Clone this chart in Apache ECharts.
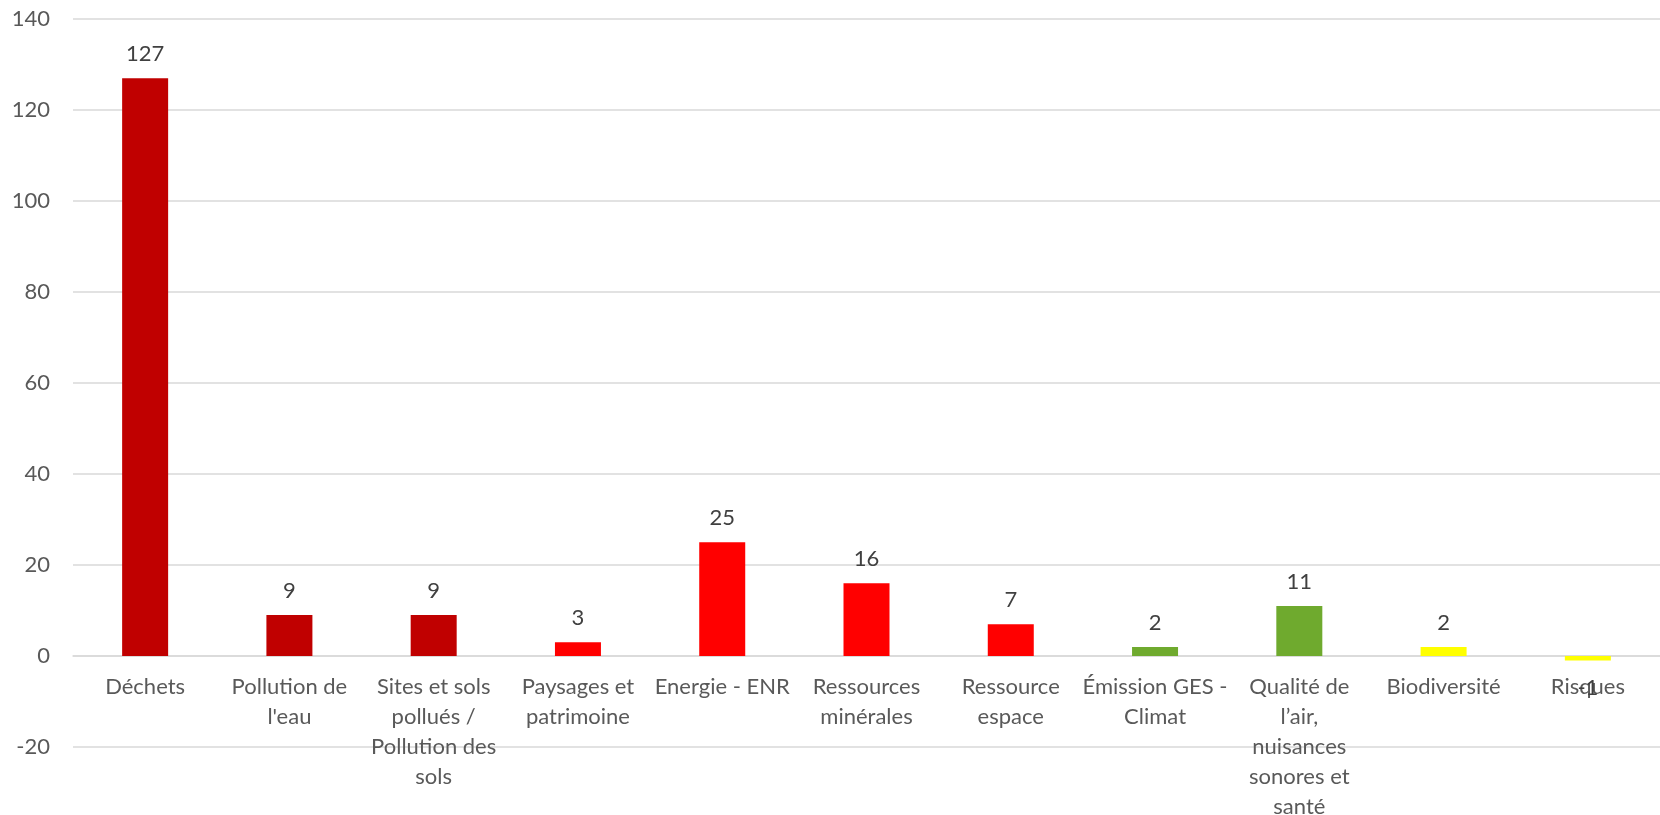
<!DOCTYPE html>
<html>
<head>
<meta charset="utf-8">
<script src="https://cdn.jsdelivr.net/npm/echarts@6/dist/echarts.min.js"></script>
<style>
html,body{margin:0;padding:0;background:#fff;}
#chart{width:1660px;height:815px;}
</style>
</head>
<body>
<div id="chart"></div>
<script>
const categories = [
  "Déchets",
  "Pollution de\nl'eau",
  "Sites et sols\npollués /\nPollution des\nsols",
  "Paysages et\npatrimoine",
  "Energie - ENR",
  "Ressources\nminérales",
  "Ressource\nespace",
  "Émission GES -\nClimat",
  "Qualité de\nl’air,\nnuisances\nsonores et\nsanté",
  "Biodiversité",
  "Risques"
];
const values = [127, 9, 9, 3, 25, 16, 7, 2, 11, 2, -1];
const groups = ["dark", "dark", "dark", "red", "red", "red", "red", "green", "green", "yellow", "yellow"];
const yTicks = { min: -20, max: 140, interval: 20 };

const palette = { dark: "#C00000", red: "#FF0000", green: "#6FAA2E", yellow: "#FFFF00" };
const FONT = "Lato, 'Open Sans', sans-serif";
const GRID_TOP = 19, GRID_BOTTOM = 68, H = 815;
const plotH = H - GRID_TOP - GRID_BOTTOM;
const zeroOffset = -plotH * (0 - yTicks.min) / (yTicks.max - yTicks.min);

const chart = echarts.init(document.getElementById('chart'));
chart.setOption({
  animation: false,
  backgroundColor: '#ffffff',
  grid: { left: 73, right: 0, top: GRID_TOP, bottom: GRID_BOTTOM, containLabel: false, outerBoundsMode: 'none' },
  xAxis: {
    type: 'category',
    data: categories,
    offset: zeroOffset,
    axisLine: { onZero: false, lineStyle: { color: '#d9d9d9', width: 1.5 } },
    axisTick: { show: false },
    axisLabel: {
      interval: 0, margin: 16, color: '#595959',
      fontFamily: FONT, fontSize: 22, lineHeight: 30, align: 'center'
    }
  },
  yAxis: {
    type: 'value',
    min: yTicks.min, max: yTicks.max, interval: yTicks.interval,
    axisLine: { show: false },
    axisTick: { show: false },
    splitLine: { lineStyle: { color: '#d9d9d9', width: 1.5 } },
    axisLabel: { margin: 23, color: '#595959', fontFamily: FONT, fontSize: 22 }
  },
  series: [{
    type: 'bar',
    barWidth: 46,
    data: values.map((v, i) => ({
      value: v,
      itemStyle: { color: palette[groups[i]] },
      label: { position: v < 0 ? 'bottom' : 'top', distance: v < 0 ? 16 : 13 }
    })),
    label: {
      show: true, color: '#404040', fontFamily: FONT, fontSize: 22
    }
  }]
});
</script>
</body>
</html>
